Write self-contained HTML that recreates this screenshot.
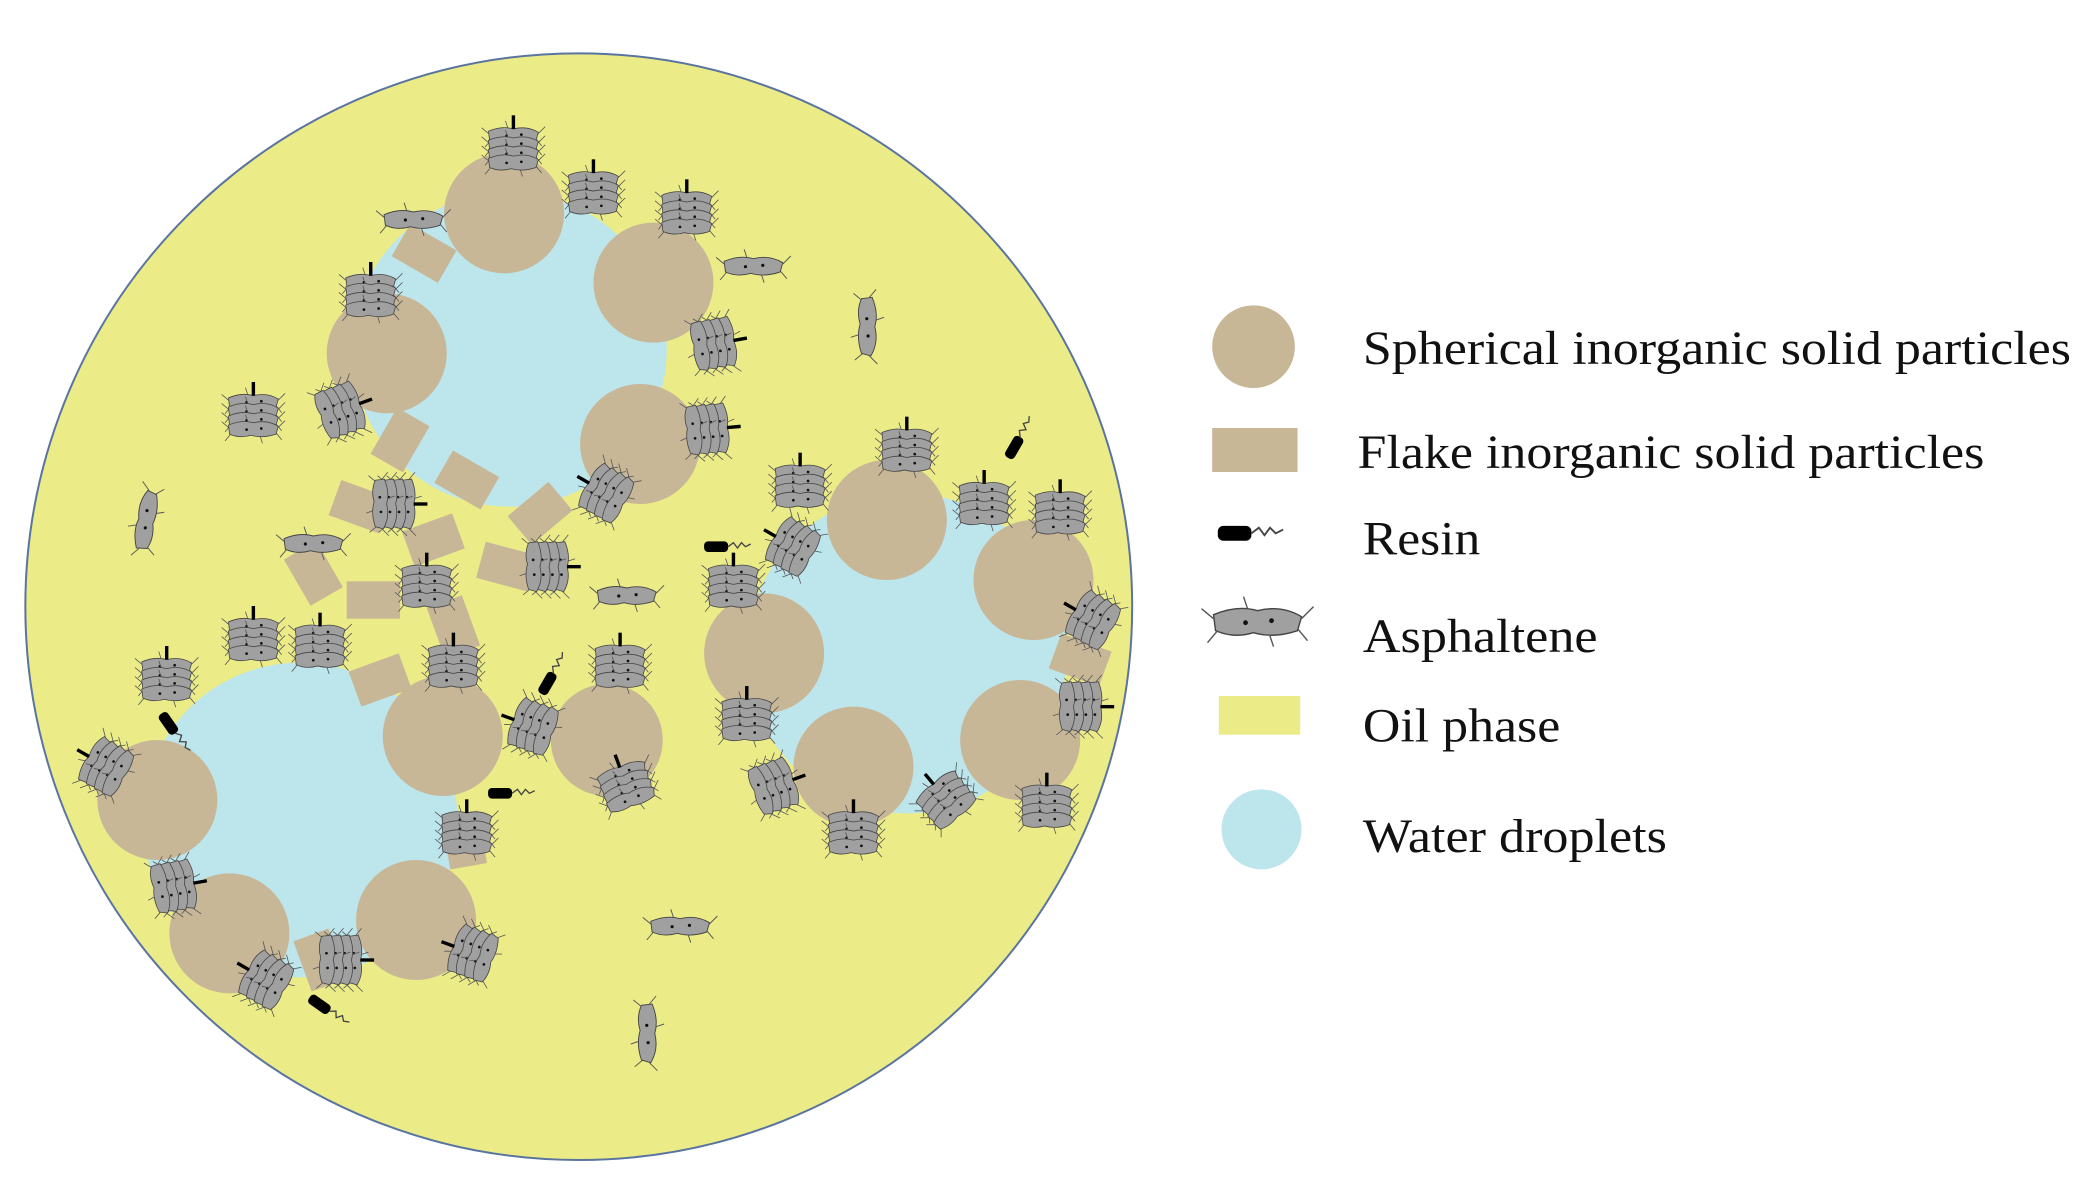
<!DOCTYPE html>
<html><head><meta charset="utf-8"><style>html,body{margin:0;padding:0;background:#fff}svg{display:block}</style></head>
<body>
<svg width="2091" height="1180" viewBox="0 0 1568 885" preserveAspectRatio="none" xmlns="http://www.w3.org/2000/svg">
<defs>
<g id="a">
<path d="M-22,-4 Q-10,-9 0,-6 Q12,-9 22,-3 L20,4 Q8,8 -2,5 Q-12,8 -21,4 Z" fill="#a0a0a0" stroke="#444" stroke-width="0.7"/>
<path d="M-22,-2 l-6,-5 M22,-2 l6,-6 M-20,4 l-5,6 M20,3 l5,6 M-5,-7 l-2,-6 M6,6 l2,6" stroke="#555" stroke-width="0.7" fill="none"/>
<circle cx="-6" cy="0" r="1.2" fill="#111"/><circle cx="7" cy="-1" r="1.2" fill="#111"/>
</g>
<g id="s">
<g transform="scale(0.85)">
<use href="#a" y="-12"/><use href="#a" y="-4"/><use href="#a" y="4"/><use href="#a" y="12"/>
<path d="M0,-18 v-12" stroke="#000" stroke-width="3"/>
</g>
</g>
<g id="r"><rect x="-12" y="-4" width="18" height="8" rx="3" fill="#000"/><path d="M6,0 l4,-3 l3,4 l3,-4 l3,3 l4,-2" stroke="#444" fill="none" stroke-width="1"/></g>
</defs>
<ellipse cx="434" cy="455" rx="415" ry="415" fill="#ebeb88" stroke="#5a74a0" stroke-width="1.5"/>
<g fill="#bde5ec">
<circle cx="382" cy="262" r="118"/>
<circle cx="225" cy="615" r="118"/>
<circle cx="680" cy="490" r="120"/>
</g>
<g fill="#c7b797">
<circle cx="378" cy="160" r="45"/><circle cx="490" cy="212" r="45"/><circle cx="290" cy="265" r="45"/><circle cx="480" cy="333" r="45"/>
<circle cx="118" cy="600" r="45"/><circle cx="332" cy="552" r="45"/><circle cx="172" cy="700" r="45"/><circle cx="312" cy="690" r="45"/>
<circle cx="665" cy="390" r="45"/><circle cx="775" cy="435" r="45"/><circle cx="573" cy="490" r="45"/><circle cx="640" cy="575" r="45"/><circle cx="765" cy="555" r="45"/>
<circle cx="455" cy="555" r="42"/>
<rect x="-20" y="-14" width="40" height="28" transform="translate(318,190) rotate(30)"/>
<rect x="-20" y="-14" width="40" height="28" transform="translate(300,330) rotate(-60)"/>
<rect x="-20" y="-14" width="40" height="28" transform="translate(350,360) rotate(30)"/>
<rect x="-20" y="-14" width="40" height="28" transform="translate(270,380) rotate(20)"/>
<rect x="-20" y="-14" width="40" height="28" transform="translate(405,385) rotate(-40)"/>
<rect x="-20" y="-14" width="40" height="28" transform="translate(325,405) rotate(-20)"/>
<rect x="-20" y="-14" width="40" height="28" transform="translate(380,425) rotate(15)"/>
<rect x="-20" y="-14" width="40" height="28" transform="translate(235,430) rotate(60)"/>
<rect x="-20" y="-14" width="40" height="28" transform="translate(280,450) rotate(0)"/>
<rect x="-20" y="-14" width="40" height="28" transform="translate(340,470) rotate(70)"/>
<rect x="-20" y="-14" width="40" height="28" transform="translate(285,510) rotate(-20)"/>
<rect x="-20" y="-14" width="40" height="28" transform="translate(348,630) rotate(80)"/>
<rect x="-20" y="-14" width="40" height="28" transform="translate(240,720) rotate(70)"/>
<rect x="-20" y="-14" width="40" height="28" transform="translate(810,495) rotate(20)"/>
</g>
<g>
<use href="#s" transform="translate(385,112)"/><use href="#s" transform="translate(445,145)"/><use href="#s" transform="translate(515,160)"/>
<use href="#s" transform="translate(278,222)"/><use href="#s" transform="translate(535,258) rotate(80)"/><use href="#s" transform="translate(530,322) rotate(85)"/>
<use href="#s" transform="translate(190,312)"/><use href="#s" transform="translate(255,308) rotate(70)"/><use href="#s" transform="translate(455,370) rotate(-60)"/>
<use href="#s" transform="translate(295,378) rotate(90)"/><use href="#s" transform="translate(410,425) rotate(90)"/><use href="#s" transform="translate(320,440)"/>
<use href="#s" transform="translate(190,480)"/><use href="#s" transform="translate(240,485)"/><use href="#s" transform="translate(125,510)"/>
<use href="#s" transform="translate(340,500)"/><use href="#s" transform="translate(465,500)"/><use href="#s" transform="translate(400,545) rotate(-70)"/>
<use href="#s" transform="translate(80,575) rotate(-60)"/><use href="#s" transform="translate(130,665) rotate(80)"/><use href="#s" transform="translate(350,625)"/>
<use href="#s" transform="translate(470,590) rotate(-20)"/><use href="#s" transform="translate(200,735) rotate(-60)"/><use href="#s" transform="translate(255,720) rotate(90)"/>
<use href="#s" transform="translate(355,715) rotate(-70)"/><use href="#s" transform="translate(600,365)"/><use href="#s" transform="translate(595,410) rotate(-60)"/>
<use href="#s" transform="translate(680,338)"/><use href="#s" transform="translate(738,378)"/><use href="#s" transform="translate(795,385)"/>
<use href="#s" transform="translate(550,440)"/><use href="#s" transform="translate(560,540)"/><use href="#s" transform="translate(580,590) rotate(70)"/>
<use href="#s" transform="translate(820,465) rotate(-60)"/><use href="#s" transform="translate(810,530) rotate(90)"/><use href="#s" transform="translate(640,625)"/>
<use href="#s" transform="translate(710,600) rotate(-40)"/><use href="#s" transform="translate(785,605)"/>
<use href="#a" transform="translate(650,245) rotate(90)"/><use href="#a" transform="translate(110,390) rotate(-80)"/><use href="#a" transform="translate(235,408)"/>
<use href="#a" transform="translate(310,165)"/><use href="#a" transform="translate(565,200)"/><use href="#a" transform="translate(470,447)"/>
<use href="#a" transform="translate(510,695)"/><use href="#a" transform="translate(485,775) rotate(90)"/>
<use href="#r" transform="translate(540,410)"/><use href="#r" transform="translate(378,595)"/><use href="#r" transform="translate(762,333) rotate(-60)"/>
<use href="#r" transform="translate(412,510) rotate(-60)"/><use href="#r" transform="translate(128,545) rotate(55)"/><use href="#r" transform="translate(242,755) rotate(35)"/>
</g>
<circle cx="940" cy="260" r="31" fill="#c7b797"/>
<rect x="909" y="321" width="64" height="33" fill="#c7b797"/>
<use href="#r" transform="translate(930,400) scale(1.4)"/>
<use href="#a" transform="translate(943,467) scale(1.5)"/>
<rect x="914" y="522" width="61" height="29" fill="#ebeb88"/>
<circle cx="946" cy="622" r="30" fill="#bde5ec"/>
<g font-family="Liberation Serif, serif" font-size="36" fill="#111" lengthAdjust="spacingAndGlyphs">
<text x="1022" y="273" textLength="531" lengthAdjust="spacingAndGlyphs">Spherical inorganic solid particles</text>
<text x="1018" y="351" textLength="470" lengthAdjust="spacingAndGlyphs">Flake inorganic solid particles</text>
<text x="1022" y="416" textLength="88" lengthAdjust="spacingAndGlyphs">Resin</text>
<text x="1022" y="489" textLength="176" lengthAdjust="spacingAndGlyphs">Asphaltene</text>
<text x="1022" y="556" textLength="148" lengthAdjust="spacingAndGlyphs">Oil phase</text>
<text x="1022" y="639" textLength="228" lengthAdjust="spacingAndGlyphs">Water droplets</text>
</g>
</svg>
</body></html>
